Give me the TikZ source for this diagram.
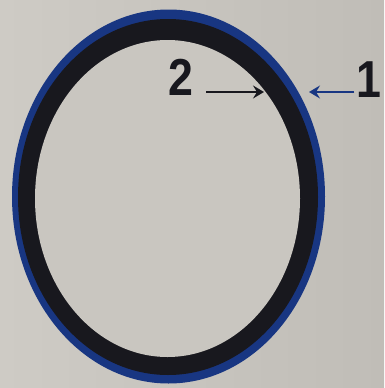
\documentclass[tikz,border=0pt]{standalone}
\usepackage{fontspec}
\setmainfont{Liberation Sans}
\usetikzlibrary{arrows.meta,calc}
\definecolor{bgA}{RGB}{206,203,197}
\definecolor{bgB}{RGB}{192,189,183}
\definecolor{ringblue}{RGB}{24,54,130}
\definecolor{ringblack}{RGB}{24,24,30}
\definecolor{innergray}{RGB}{201,198,192}
\tikzset{
  lbl/.style={font=\bfseries\fontsize{52}{52}\selectfont, inner sep=0pt, xscale=0.86, text=ringblack},
  arr/.style={line width=2.6pt, -{Stealth[length=11pt,width=13pt,inset=4pt]}},
}
\begin{document}
\begin{tikzpicture}[x=1pt,y=-1pt]
\useasboundingbox (0,0) rectangle (384,388);
\shade[left color=bgA, right color=bgB] (0,0) rectangle (384,388);
% ring
\fill[ringblue] (168.5,196.5) ellipse [x radius=156.5, y radius=187];
\fill[ringblack] (168,197) ellipse [x radius=150, y radius=178];
\fill[innergray] (167.5,198.5) ellipse [x radius=132.5, y radius=158.5];
% labels
\node[lbl, anchor=base] (n2) at (180.5,95) {2};
\node[lbl, anchor=base] (n1) at (369,97) {1};
\coordinate (h2) at (264,92);
\coordinate (h1) at (309,92);
\draw[arr, ringblack] ([xshift=13pt]n2.east |- h2) -- (h2);
\draw[arr, ringblue] ([xshift=-2pt]n1.west |- h1) -- (h1);
\end{tikzpicture}
\end{document}
